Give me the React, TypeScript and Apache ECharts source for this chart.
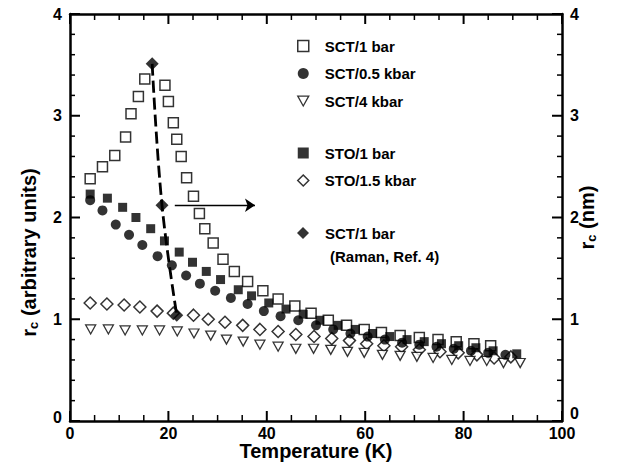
import React, { useEffect, useRef } from "react";
import * as echarts from "echarts";

// ---- Data ----
const sct1barT = [4.1, 6.6, 9.1, 11.3, 12.4, 13.9, 15.2, 19.3, 20.0, 21.0, 21.7, 22.6, 23.7, 25.1, 26.3, 27.4, 29.1, 31.1, 33.4, 36.1, 39.2, 42.3, 45.7, 49.0, 52.5, 56.2, 59.8, 63.3, 67.1, 71.0, 74.8, 78.5, 82.1, 85.5];
const sct1barR = [2.38, 2.50, 2.61, 2.79, 3.02, 3.19, 3.36, 3.30, 3.14, 2.93, 2.77, 2.60, 2.39, 2.21, 2.04, 1.89, 1.75, 1.59, 1.47, 1.37, 1.28, 1.20, 1.13, 1.06, 0.99, 0.94, 0.90, 0.87, 0.84, 0.82, 0.80, 0.78, 0.76, 0.74];

const sct05kbarT = [4.1, 6.6, 9.3, 12.0, 14.7, 17.8, 20.7, 23.6, 26.4, 29.5, 32.7, 36.1, 39.4, 42.8, 46.4, 50.0, 53.5, 57.0, 60.5, 64.0, 67.5, 71.0, 74.5, 78.0, 81.5, 85.0, 88.5];
const sct05kbarR = [2.17, 2.07, 1.93, 1.83, 1.73, 1.62, 1.53, 1.43, 1.35, 1.28, 1.21, 1.15, 1.08, 1.03, 0.99, 0.94, 0.90, 0.86, 0.83, 0.80, 0.77, 0.75, 0.73, 0.71, 0.69, 0.67, 0.65];

const sct4kbarT = [4.2, 7.8, 11.2, 14.7, 18.2, 21.8, 25.2, 28.6, 31.8, 35.2, 38.6, 42.3, 45.9, 49.5, 53.0, 56.4, 59.8, 63.5, 67.1, 70.5, 73.8, 77.6, 81.3, 84.7, 88.1, 91.5];
const sct4kbarR = [0.90, 0.90, 0.89, 0.89, 0.89, 0.88, 0.86, 0.84, 0.80, 0.78, 0.75, 0.73, 0.71, 0.71, 0.70, 0.68, 0.67, 0.65, 0.64, 0.63, 0.62, 0.60, 0.59, 0.59, 0.57, 0.57];

const sto1barT = [4.1, 7.6, 10.7, 13.4, 16.4, 19.2, 22.2, 24.9, 27.7, 30.6, 34.2, 36.9, 40.4, 43.9, 47.4, 50.8, 54.5, 58.0, 61.5, 65.0, 68.5, 72.0, 75.5, 79.0, 82.5, 86.0, 90.8];
const sto1barR = [2.23, 2.19, 2.10, 2.00, 1.89, 1.77, 1.66, 1.56, 1.47, 1.39, 1.29, 1.23, 1.16, 1.10, 1.05, 0.99, 0.94, 0.90, 0.86, 0.83, 0.80, 0.78, 0.76, 0.74, 0.72, 0.69, 0.66];

const sto15kbarT = [4.1, 7.5, 11.0, 14.2, 17.7, 21.0, 25.1, 28.1, 31.5, 35.1, 38.6, 42.3, 45.9, 49.6, 53.2, 56.8, 60.3, 63.8, 67.4, 71.0, 75.2, 78.9, 82.7, 86.2, 89.6];
const sto15kbarR = [1.16, 1.15, 1.14, 1.12, 1.08, 1.06, 1.04, 1.00, 0.97, 0.94, 0.90, 0.88, 0.85, 0.83, 0.81, 0.79, 0.76, 0.74, 0.73, 0.70, 0.68, 0.67, 0.65, 0.62, 0.63];

const ramanT = [16.7, 18.7, 21.7];
const ramanR = [3.51, 2.12, 1.04];

const arrowFrom = [21.3, 2.12];
const arrowTo = [37.6, 2.12];

// tick values (major ticks carry labels)
const xTicks = [0, 20, 40, 60, 80, 100];
const xMinorTicks = [5, 10, 15, 25, 30, 35, 45, 50, 55, 65, 70, 75, 85, 90, 95];
const yTicks = [0, 1, 2, 3, 4];
const yMinorTicks = [0.2, 0.4, 0.6, 0.8, 1.2, 1.4, 1.6, 1.8, 2.2, 2.4, 2.6, 2.8, 3.2, 3.4, 3.6, 3.8];

const FONT = "'Liberation Sans', Arial, Helvetica, sans-serif";
const TRI_DOWN = "path://M0,0L10,0L5,9Z";

const zip = (t: number[], r: number[]) => t.map((v, i) => [v, r[i]]);

const mkLine = () => ({ show: true, onZero: false, lineStyle: { color: "#000", width: 2.5 } });

export default function App() {
  const ref = useRef<HTMLDivElement>(null);

  useEffect(() => {
    if (!ref.current) return;
    const chart = echarts.init(ref.current, null, { renderer: "svg" });

    const xMin = xTicks[0];
    const xMax = xTicks[xTicks.length - 1];
    const yMin = yTicks[0];
    const yMax = yTicks[yTicks.length - 1];

    const labelStyle = { color: "#000", fontFamily: FONT, fontWeight: "bold" as const, fontSize: 16 };
    const xBase = () => ({
      type: "value" as const,
      min: xMin,
      max: xMax,
      interval: xTicks[1] - xTicks[0],
      axisLine: mkLine(),
      axisTick: { show: false },
      minorTick: { show: false },
      splitLine: { show: false },
    });
    const yBase = () => ({
      type: "value" as const,
      min: yMin,
      max: yMax,
      interval: yTicks[1] - yTicks[0],
      axisLine: mkLine(),
      axisTick: { show: false },
      minorTick: { show: false },
      splitLine: { show: false },
    });
    const nameRich = {
      m: { fontSize: 20, fontWeight: "bold" as const, fontFamily: FONT, color: "#000", lineHeight: 22 },
      s: { fontSize: 13, fontWeight: "bold" as const, fontFamily: FONT, color: "#000", lineHeight: 13, verticalAlign: "bottom" as const },
    };

    const legendText = {
      color: "#000",
      fontFamily: FONT,
      fontWeight: "bold" as const,
      fontSize: 15,
      lineHeight: 18,
      padding: [0, 0, 0, 11],
    };
    const openStyle = { color: "#fff", borderColor: "#000", borderWidth: 1.5 };
    const fillStyle = { color: "#000", borderColor: "#000", borderWidth: 0 };

    const ramanNote = {
      id: "ramanNote",
      type: "text",
      left: 330,
      top: 249,
      style: { text: "(Raman, Ref. 4)", fill: "#000", font: `bold 15px ${FONT}` },
    };

    chart.setOption({
      animation: false,
      backgroundColor: "#fff",
      grid: { left: 70, right: 62, top: 14, bottom: 49 },
      xAxis: [
        {
          ...xBase(),
          position: "bottom",
          name: "Temperature (K)",
          nameLocation: "middle",
          nameGap: 20,
          nameMoveOverlap: false,
          nameTextStyle: { color: "#000", fontFamily: FONT, fontWeight: "bold", fontSize: 20 },
          axisLabel: { ...labelStyle, margin: 4 },
        },
        { ...xBase(), position: "top", axisLabel: { show: false } },
      ],
      yAxis: [
        {
          ...yBase(),
          position: "left",
          name: "{m|r}{s|c}{m| (arbitrary units)}",
          nameLocation: "middle",
          nameRotate: 90,
          nameGap: 30,
          nameMoveOverlap: false,
          nameTextStyle: { rich: nameRich, padding: [0, 70, 0, 0] },
          axisLabel: {
            ...labelStyle,
            margin: 8,
            formatter: (v: number) => (v === 0 ? "{z|0}" : String(v)),
            rich: { z: { ...labelStyle, padding: [0, 0, 8, 0] } },
          },
        },
        {
          ...yBase(),
          position: "right",
          name: "{m|r}{s|c}{m| (nm)}",
          nameLocation: "middle",
          nameRotate: 90,
          nameGap: 14,
          nameMoveOverlap: false,
          nameTextStyle: { rich: nameRich },
          axisLabel: {
            ...labelStyle,
            margin: 8,
            formatter: (v: number) => (v === 0 ? "{z|0}" : String(v)),
            rich: { z: { ...labelStyle, padding: [0, 0, 16, 0] } },
          },
        },
      ],
      legend: [
        {
          left: 297,
          top: 37,
          orient: "vertical",
          padding: 0,
          itemGap: 9.5,
          itemWidth: 11,
          itemHeight: 11,
          selectedMode: false,
          textStyle: legendText,
          data: [
            { name: "SCT/1 bar", icon: "rect", itemStyle: openStyle },
            { name: "SCT/0.5 kbar", icon: "circle", itemStyle: fillStyle },
            { name: "SCT/4 kbar", icon: TRI_DOWN, itemStyle: { ...openStyle, borderWidth: 1.3 } },
          ],
        },
        {
          left: 297,
          top: 144,
          orient: "vertical",
          padding: 0,
          itemGap: 9.5,
          itemWidth: 11,
          itemHeight: 11,
          selectedMode: false,
          textStyle: legendText,
          data: [
            { name: "STO/1 bar", icon: "rect", itemStyle: fillStyle },
            { name: "STO/1.5 kbar", icon: "diamond", itemStyle: openStyle },
          ],
        },
        {
          left: 297,
          top: 224,
          orient: "vertical",
          padding: 0,
          itemWidth: 12,
          itemHeight: 12,
          selectedMode: false,
          textStyle: legendText,
          formatter: () => "SCT/1 bar",
          data: [{ name: "SCT/1 bar (Raman, Ref. 4)", icon: "diamond", itemStyle: fillStyle }],
        },
      ],
      graphic: [ramanNote],
      series: [
        {
          name: "SCT/1 bar",
          type: "scatter",
          symbol: "rect",
          symbolSize: 10,
          itemStyle: openStyle,
          data: zip(sct1barT, sct1barR),
          z: 2,
        },
        {
          name: "STO/1.5 kbar",
          type: "scatter",
          symbol: "diamond",
          symbolSize: 12,
          itemStyle: openStyle,
          data: zip(sto15kbarT, sto15kbarR),
          z: 2,
        },
        {
          name: "SCT/4 kbar",
          type: "scatter",
          symbol: TRI_DOWN,
          symbolSize: [10, 9],
          itemStyle: { ...openStyle, borderWidth: 1.3 },
          data: zip(sct4kbarT, sct4kbarR),
          z: 3,
        },
        {
          name: "STO/1 bar",
          type: "scatter",
          symbol: "rect",
          symbolSize: 9,
          itemStyle: fillStyle,
          data: zip(sto1barT, sto1barR),
          z: 4,
        },
        {
          name: "SCT/0.5 kbar",
          type: "scatter",
          symbol: "circle",
          symbolSize: 10,
          itemStyle: fillStyle,
          data: zip(sct05kbarT, sct05kbarR),
          z: 4,
        },
        {
          name: "guide",
          type: "line",
          smooth: 0.4,
          showSymbol: false,
          symbol: "none",
          silent: true,
          lineStyle: { color: "#000", width: 2.8, type: [12, 5] },
          data: zip(ramanT, ramanR),
          z: 5,
        },
        {
          name: "SCT/1 bar (Raman, Ref. 4)",
          type: "scatter",
          symbol: "diamond",
          symbolSize: 13,
          itemStyle: fillStyle,
          data: zip(ramanT, ramanR),
          z: 6,
          markLine: {
            silent: true,
            symbol: ["none", "arrow"],
            symbolSize: 10,
            label: { show: false },
            lineStyle: { color: "#000", width: 1.3, type: "solid" },
            data: [[{ coord: arrowFrom }, { coord: arrowTo }]],
          },
        },
      ],
    });

    // Tick marks placed through the chart's own axis scales (convertToPixel).
    const finder = { xAxisIndex: 0, yAxisIndex: 0 };
    const toPx = (p: number[]) => chart.convertToPixel(finder, p) as number[];
    const ticks: any[] = [];
    let n = 0;
    const addLine = (x1: number, y1: number, x2: number, y2: number, w: number) => {
      ticks.push({
        id: "tick" + n++,
        type: "line",
        silent: true,
        z: 100,
        shape: { x1, y1, x2, y2 },
        style: { stroke: "#000", lineWidth: w },
      });
    };
    const xTick = (v: number, len: number, w: number) => {
      const b = toPx([v, yMin]);
      const t = toPx([v, yMax]);
      addLine(b[0], b[1], b[0], b[1] - len, w);
      addLine(t[0], t[1], t[0], t[1] + len, w);
    };
    const yTick = (v: number, len: number, w: number) => {
      const l = toPx([xMin, v]);
      const r = toPx([xMax, v]);
      addLine(l[0], l[1], l[0] + len, l[1], w);
      addLine(r[0], r[1], r[0] - len, r[1], w);
    };
    xTicks.forEach((v) => xTick(v, 10, 2));
    xMinorTicks.forEach((v) => xTick(v, 6, 1.5));
    yTicks.forEach((v) => yTick(v, 10, 2));
    yMinorTicks.forEach((v) => yTick(v, 5, 1.5));

    chart.setOption({ graphic: [ramanNote, ...ticks] });

    return () => chart.dispose();
  }, []);

  return (
    <div
      ref={ref}
      style={{ position: "fixed", left: 0, top: 0, width: 624, height: 470, background: "#fff" }}
    />
  );
}
